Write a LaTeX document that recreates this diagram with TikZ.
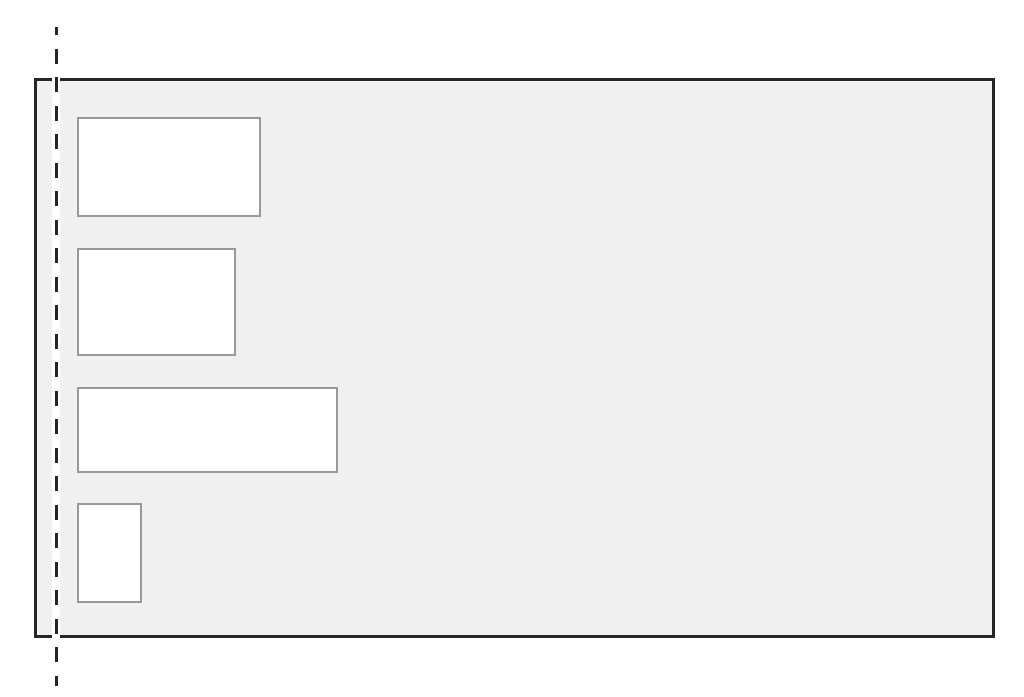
\documentclass[tikz,border=0pt]{standalone}
\begin{document}
\begin{tikzpicture}[x=1pt,y=-1pt,
  outer/.style={draw=black!85,line width=3pt,fill=black!6},
  inner/.style={draw=black!40,line width=1.8pt,fill=white},
  halo/.style={draw=white,line width=8pt},
  guide/.style={draw=black!85,line width=3pt,dash pattern=on 15pt off 13.5pt,dash phase=7pt}]
\useasboundingbox (0,0) rectangle (1024,696);
\path[outer] (35,79) rectangle (993,636);
\path[inner] (78,118) rectangle (260,216);
\path[inner] (78,249) rectangle (235,355);
\path[inner] (78,388) rectangle (337,472);
\path[inner] (78,504) rectangle (141,602);
\coordinate (htop) at (56,77);
\coordinate (hbot) at (56,638);
\coordinate (gtop) at (56,27);
\coordinate (gbot) at (56,686);
\draw[halo] (htop) -- (hbot);
\draw[guide] (gtop) -- (gbot);
\end{tikzpicture}
\end{document}
